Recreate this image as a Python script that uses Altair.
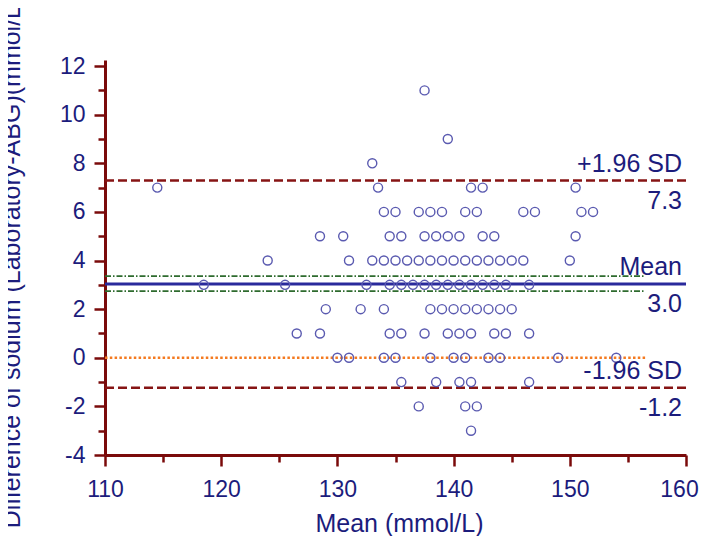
import altair as alt
import pandas as pd

# ---- data (x = mean of the two methods, grouped by difference) ----
x_at_diff_p11 = [137.5]
x_at_diff_p9 = [139.5]
x_at_diff_p8 = [133]
x_at_diff_p7 = [114.5, 133.5, 141.5, 142.5, 150.5]
x_at_diff_p6 = [134, 135, 137, 138, 139, 141, 142, 146, 147, 151, 152]
x_at_diff_p5 = [128.5, 130.5, 134.5, 135.5, 137.5, 138.5, 139.5, 140.5, 142.5, 143.5, 150.5]
x_at_diff_p4 = [124, 131, 133, 134, 135, 136, 137, 138, 139, 140, 141, 142, 143, 144, 145, 146, 150]
x_at_diff_p3 = [118.5, 125.5, 132.5, 134.5, 135.5, 136.5, 137.5, 138.5, 139.5, 140.5, 141.5, 142.5, 143.5, 144.5, 146.5]
x_at_diff_p2 = [129, 132, 134, 138, 139, 140, 141, 142, 143, 144, 145]
x_at_diff_p1 = [126.5, 128.5, 134.5, 135.5, 137.5, 139.5, 140.5, 141.5, 143.5, 144.5, 146.5]
x_at_diff_0 = [130, 131, 134, 135, 138, 140, 141, 143, 144, 149, 154]
x_at_diff_m1 = [135.5, 138.5, 140.5, 141.5, 146.5]
x_at_diff_m2 = [137, 141, 142]
x_at_diff_m3 = [141.5]

groups = {
    11: x_at_diff_p11, 9: x_at_diff_p9, 8: x_at_diff_p8, 7: x_at_diff_p7,
    6: x_at_diff_p6, 5: x_at_diff_p5, 4: x_at_diff_p4, 3: x_at_diff_p3,
    2: x_at_diff_p2, 1: x_at_diff_p1, 0: x_at_diff_0, -1: x_at_diff_m1,
    -2: x_at_diff_m2, -3: x_at_diff_m3,
}

# statistics lines
mean_diff = 3.03
upper_loa = 7.29
lower_loa = -1.23
ci_mean = [2.74, 3.36]
zero_line = [0]
x_start = 110
x_end_full = 160
x_end_short = 156.5

labels_above = ["+1.96 SD", "Mean", "-1.96 SD"]
labels_below = ["7.3", "3.0", "-1.2"]
label_levels = [upper_loa, mean_diff, lower_loa]

x_ticks = [110, 115, 120, 125, 130, 135, 140, 145, 150, 155, 160]
y_ticks = list(range(-4, 13))

# ---- tables ----
pts = pd.DataFrame([(x, d) for d, xs in groups.items() for x in xs], columns=["m", "d"])
loa_df = pd.DataFrame({"y": [upper_loa, lower_loa], "x0": x_start, "x1": x_end_full})
mean_df = pd.DataFrame({"y": [mean_diff], "x0": x_start, "x1": x_end_full})
ci_df = pd.DataFrame({"y": ci_mean, "x0": x_start, "x1": x_end_short})
zero_df = pd.DataFrame({"y": zero_line, "x0": x_start, "x1": x_end_short})
above_df = pd.DataFrame({"t": labels_above, "y": label_levels, "x": x_end_full})
below_df = pd.DataFrame({"t": labels_below, "y": label_levels, "x": x_end_full})

AXIS_COL = "#7a0a0a"
TEXT_COL = "#1c1c7c"
FONT = "Liberation Sans"

xscale = alt.Scale(domain=[110, 160], nice=False, zero=False)
yscale = alt.Scale(domain=[-4, 12.25], nice=False, zero=False)

xaxis = alt.Axis(
    values=x_ticks,
    labelExpr="datum.value % 10 === 0 ? datum.label : ''",
    tickSize={"condition": {"test": "datum.value % 10 === 0", "value": 11}, "value": 7},
    labelOffset={"condition": {"test": "datum.value === 160", "value": -7}, "value": 0},
    grid=False, domainColor=AXIS_COL, domainWidth=3, tickColor=AXIS_COL, tickWidth=2.5,
    labelFont=FONT, labelFontSize=23, labelColor=TEXT_COL, labelPadding=12,
    labelFlush=False, labelOverlap=False,
    title="Mean (mmol/L)", titleFont=FONT, titleFontSize=25, titleFontWeight="normal",
    titleColor=TEXT_COL, titleX=294, titleY=76, titleBaseline="alphabetic",
)
yaxis = alt.Axis(
    values=y_ticks,
    labelExpr="datum.value % 2 === 0 ? '' + datum.value : ''",
    tickSize={"condition": {"test": "datum.value % 2 === 0", "value": 11}, "value": 7},
    grid=False, domainColor=AXIS_COL, domainWidth=3, tickColor=AXIS_COL, tickWidth=2.5,
    labelFont=FONT, labelFontSize=23, labelColor=TEXT_COL, labelPadding=9,
    labelFlush=False, labelOverlap=False,
    title="Difference of sodium (Laboratory-ABG)(mmol/L)", titleFont=FONT, titleFontSize=25,
    titleFontWeight="normal", titleColor=TEXT_COL, titleX=-81, titleY=202,
)


def X(field):
    return alt.X(field, type="quantitative", scale=xscale, axis=xaxis)


def Y(field):
    return alt.Y(field, type="quantitative", scale=yscale, axis=yaxis)


ci_layer = alt.Chart(ci_df).mark_rule(color="#2e6b2e", strokeWidth=1.6, strokeDash=[6, 2, 1.5, 2]).encode(
    x=X("x0"), x2="x1", y=Y("y"))
zero_layer = alt.Chart(zero_df).mark_rule(color="#f47a20", strokeWidth=2.5, strokeDash=[2.5, 2.3]).encode(
    x=X("x0"), x2="x1", y=Y("y"))
loa_layer = alt.Chart(loa_df).mark_rule(color="#861414", strokeWidth=2.5, strokeDash=[9, 4]).encode(
    x=X("x0"), x2="x1", y=Y("y"))
mean_layer = alt.Chart(mean_df).mark_rule(color="#2a2a9c", strokeWidth=3).encode(
    x=X("x0"), x2="x1", y=Y("y"))
pt_layer = alt.Chart(pts).mark_point(shape="circle", filled=False, size=82, strokeWidth=1.4,
                                     color="#5a5ab0", opacity=1).encode(x=X("m"), y=Y("d"))
txt_above = alt.Chart(above_df).mark_text(align="right", baseline="alphabetic", dx=-4, dy=-9,
                                          font=FONT, fontSize=25, color=TEXT_COL).encode(
    x=X("x"), y=Y("y"), text="t")
txt_below = alt.Chart(below_df).mark_text(align="right", baseline="alphabetic", dx=-4, dy=28,
                                          font=FONT, fontSize=25, color=TEXT_COL).encode(
    x=X("x"), y=Y("y"), text="t")

chart = alt.layer(ci_layer, zero_layer, loa_layer, mean_layer, pt_layer, txt_above, txt_below).properties(
    width=581, height=395,
    autosize=alt.AutoSizeParams(type="none"),
    padding={"left": 97, "top": 52, "right": 13, "bottom": 81},
).configure_view(stroke=None)

chart.save("out.html", embed_options={"renderer": "svg", "actions": False})
